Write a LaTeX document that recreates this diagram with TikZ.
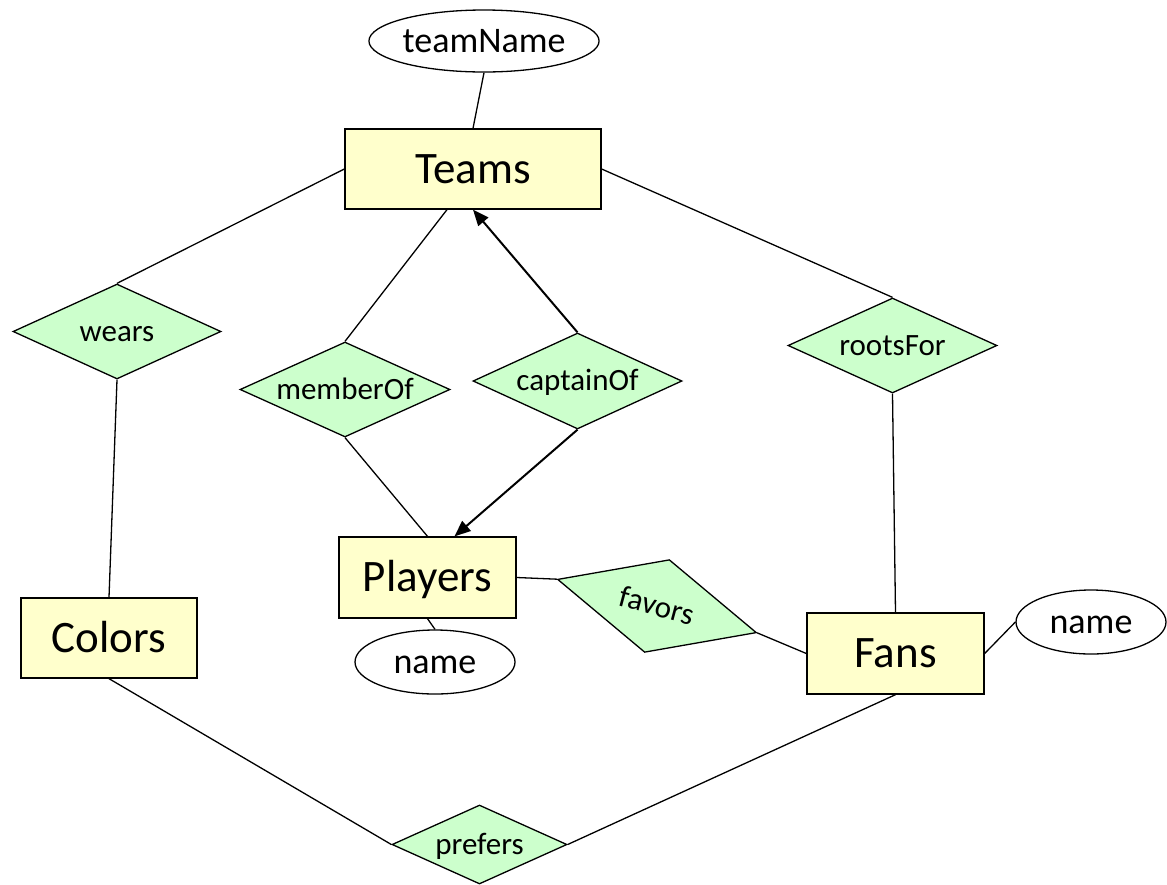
\documentclass[tikz,border=0pt]{standalone}
\usepackage{fontspec}
\setmainfont{Carlito}
\usetikzlibrary{shapes.geometric,arrows.meta,calc}
\definecolor{entfill}{RGB}{255,255,204}
\definecolor{relfill}{RGB}{204,255,204}
\begin{document}
\begin{tikzpicture}[x=1pt,y=-1pt,
  every node/.style={inner sep=0pt, text depth=0pt},
  entity/.style={draw, fill=entfill, line width=1.3pt, text height=28.4pt, font=\fontsize{45}{50}\selectfont},
  relation/.style={diamond, aspect=2.2, draw, fill=relfill, line width=1.3pt, text height=19.6pt, font=\fontsize{31}{36}\selectfont},
  attrib/.style={ellipse, draw, fill=white, line width=1.3pt, text height=22.7pt, font=\fontsize{36}{40}\selectfont},
  link/.style={line width=1.3pt},
  arrowlink/.style={line width=2pt, -{Triangle[length=16pt,width=13pt]}}]
\useasboundingbox (0,0) rectangle (1167,884);

% entity sets
\node[entity, minimum width=256pt, minimum height=80pt] (teams) at (473,169) {Teams};
\node[entity, minimum width=177pt, minimum height=81pt] (players) at (427.5,577.5) {Players};
\node[entity, minimum width=177pt, minimum height=81pt] (fans) at (895.5,653.5) {Fans};
\node[entity, minimum width=176pt, minimum height=80pt] (colors) at (109,638) {Colors};

% attributes
\node[attrib, minimum width=198pt, minimum height=62pt] (tname) at (484,41) {teamName};
\node[attrib, minimum width=160pt, minimum height=64pt] (pname) at (435,662) {name};
\node[attrib, minimum width=150pt, minimum height=64pt] (fname) at (1091,622) {name};

% relationships
\node[relation, minimum width=208pt, minimum height=95pt] (wears) at (117,331.5) {wears};
\node[relation, minimum width=210pt, minimum height=95pt] (member) at (345,389.5) {memberOf};
\node[relation, minimum width=209pt, minimum height=96pt] (captain) at (577.5,381) {captainOf};
\node[relation, minimum width=209pt, minimum height=95pt] (roots) at (892.5,345.5) {rootsFor};
\node[relation, minimum width=206pt, minimum height=96pt, rotate=-15] (favors) at (657,606) {favors};
\node[relation, minimum width=175pt, minimum height=79pt] (prefers) at (479.5,844.5) {prefers};

% connectors
\draw[link] (tname.south) -- (teams.north);
\draw[link] (teams.west) -- (wears.north);
\draw[link] (wears.south) -- (colors.north);
\draw[link] ($(teams.south)+(-26,0)$) -- (member.north);
\draw[link] (member.south) -- (players.north);
\draw[arrowlink] (captain.north) -- (teams.south);
\draw[arrowlink] (captain.south) -- ($(players.north)+(27,0)$);
\draw[link] (teams.east) -- (roots.north);
\draw[link] (roots.south) -- (fans.north);
\draw[link] (players.east) -- (favors.west);
\draw[link] (favors.east) -- (fans.west);
\draw[link] (players.south) -- (pname.north);
\draw[link] (fans.east) -- (fname.west);
\draw[link] (colors.south) -- (prefers.west);
\draw[link] (fans.south) -- (prefers.east);
\end{tikzpicture}
\end{document}
